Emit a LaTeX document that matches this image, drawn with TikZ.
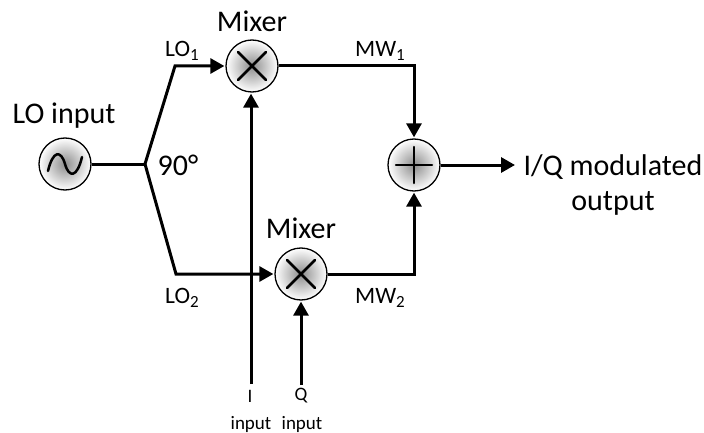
\documentclass[tikz,border=0pt]{standalone}
\usepackage{fontspec}
\setmainfont{Carlito}
\usetikzlibrary{
    arrows.meta,
    calc
}
\newcommand{\lowindex}[1]{\raisebox{-4pt}{\fontsize{17}{17}\selectfont #1}}
\tikzset{
    block/.style={circle, draw, line width=1.3pt, minimum size=52pt, inner sep=0pt,
        inner color=gray!90, outer color=white},
    wire/.style={line width=3pt},
    feed/.style={wire, -{Triangle[length=14pt, width=15pt]}, shorten >=1pt},
    bigtext/.style={font=\fontsize{30}{36}\selectfont},
    midtext/.style={font=\fontsize{23.5}{28}\selectfont},
    smalltext/.style={font=\fontsize{19}{23}\selectfont},
    symbolline/.style={line width=2.5pt, line cap=round}
}
\begin{document}
\begin{tikzpicture}[x=1pt, y=-1pt]
    \useasboundingbox (0,0) rectangle (704,433);

    % Blocks
    \node[block] (source) at (65,164) {};
    \node[block] (mixerone) at (252,66) {};
    \node[block] (mixertwo) at (301,274) {};
    \node[block] (adder) at (414,165) {};

    % Symbols inside the blocks
    \draw[symbolline] (48,171) .. controls (53,150) and (61,150) .. (65,164)
        .. controls (69,178) and (77,178) .. (82,157);
    \draw[symbolline] ($(mixerone)+(-14,-14)$) -- ($(mixerone)+(14,14)$);
    \draw[symbolline] ($(mixerone)+(-14,14)$) -- ($(mixerone)+(14,-14)$);
    \draw[symbolline] ($(mixertwo)+(-14,-14)$) -- ($(mixertwo)+(14,14)$);
    \draw[symbolline] ($(mixertwo)+(-14,14)$) -- ($(mixertwo)+(14,-14)$);
    \draw[symbolline] ($(adder)+(-18,0)$) -- ($(adder)+(18,0)$);
    \draw[symbolline] ($(adder)+(0,-18)$) -- ($(adder)+(0,18)$);

    % Free ends and corners
    \coordinate (split) at (145,164);
    \coordinate (topcorner) at (175,66);
    \coordinate (lowcorner) at (176,274);
    \coordinate (iend) at (251,384);
    \coordinate (qend) at (301,385);
    \coordinate (outend) at (516,165);

    % Connectors
    \draw[wire] (source) -- (split);
    \draw[feed] (split) -- (topcorner) -- (mixerone);
    \draw[feed] (split) -- (lowcorner) -- (mixertwo);
    \draw[feed] (iend) -- (iend |- mixerone.south);
    \draw[feed] (qend) -- (mixertwo);
    \draw[feed] (mixerone) -| (adder);
    \draw[feed] (mixertwo) -| (adder);
    \draw[feed] (adder) -- (outend);

    % Labels
    \node[bigtext] (lolabel) at (64,116) {LO input};
    \node[bigtext] (shiftlabel) at (178,165) {90°};
    \node[bigtext] (mixeronelabel) at (252,21) {Mixer};
    \node[bigtext] (mixertwolabel) at (301,228) {Mixer};
    \node[midtext] (loone) at (182,51) {LO\lowindex{1}};
    \node[midtext] (lotwo) at (182,298) {LO\lowindex{2}};
    \node[midtext] (mwone) at (380,51) {MW\lowindex{1}};
    \node[midtext] (mwtwo) at (380,298) {MW\lowindex{2}};
    \node[smalltext] (ilabel) at (250,396) {I};
    \node[smalltext] (qlabel) at (301,396) {Q};
    \node[smalltext] (iinput) at (251,424) {input};
    \node[smalltext] (qinput) at (302,424) {input};
    \node[bigtext] (outone) at (613,167) {I/Q modulated};
    \node[bigtext] (outtwo) at (613,203) {output};
\end{tikzpicture}
\end{document}
